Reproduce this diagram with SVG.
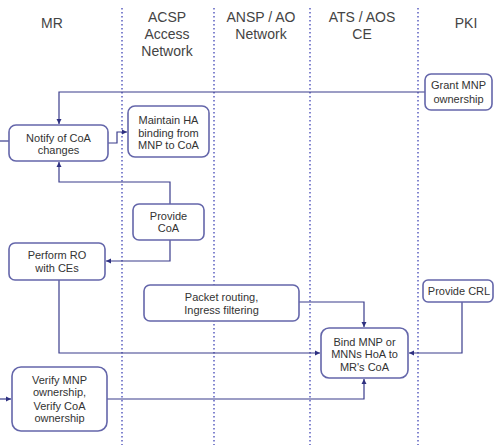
<svg xmlns="http://www.w3.org/2000/svg" width="494" height="445" viewBox="0 0 494 445">
<defs>
<marker id="ah" markerWidth="6" markerHeight="6" refX="5" refY="3" orient="auto" markerUnits="userSpaceOnUse">
<path d="M0,0.5 L5,3 L0,5.5 Z" fill="#2e3080"/>
</marker>
<style>
.hd{font-family:"Liberation Sans",Arial,sans-serif;font-size:14px;fill:#444;text-anchor:middle}
.tx{font-family:"Liberation Sans",Arial,sans-serif;font-size:11px;fill:#333;text-anchor:middle}
.box{fill:#fff;stroke:#6466aa;stroke-width:1.6}
.ln{fill:none;stroke:#3a3c8c;stroke-width:1.2}
.dv{stroke:#5a5ec0;stroke-width:1.5;stroke-dasharray:1.5,2.5}
</style>
</defs>
<rect width="494" height="445" fill="#fff"/>
<g id="lanes">
<line class="dv" x1="122" y1="8" x2="122" y2="445"/>
<line class="dv" x1="214" y1="8" x2="214" y2="445"/>
<line class="dv" x1="310" y1="8" x2="310" y2="445"/>
<line class="dv" x1="418" y1="8" x2="418" y2="445"/>
<text class="hd" x="52" y="28">MR</text>
<text class="hd" x="167" y="22">ACSP</text>
<text class="hd" x="167" y="39">Access</text>
<text class="hd" x="167" y="56">Network</text>
<text class="hd" x="261" y="22">ANSP / AO</text>
<text class="hd" x="261" y="39">Network</text>
<text class="hd" x="362" y="22">ATS / AOS</text>
<text class="hd" x="362" y="39">CE</text>
<text class="hd" x="466" y="28">PKI</text>
</g>
<g id="connectors">
<path class="ln" d="M425,92 H59 V124" marker-end="url(#ah)"/>
<path class="ln" d="M108,143 H117 V132 H127" marker-end="url(#ah)"/>
<path class="ln" d="M170,204 V182 H59 V162" marker-end="url(#ah)"/>
<path class="ln" d="M170,240 V261 H106" marker-end="url(#ah)"/>
<path class="ln" d="M59,280 V353 H320" marker-end="url(#ah)"/>
<path class="ln" d="M299,302 H364 V327" marker-end="url(#ah)"/>
<path class="ln" d="M462,302 V353 H409" marker-end="url(#ah)"/>
<path class="ln" d="M107,399 H364 V379" marker-end="url(#ah)"/>
<path class="ln" d="M0,141 H9"/>
<path class="ln" d="M0,399 H11" marker-end="url(#ah)"/>
</g>
<g id="grant">
<rect class="box" x="425" y="74" width="67" height="36" rx="6"/>
<text class="tx" x="458.5" y="89">Grant MNP</text>
<text class="tx" x="458.5" y="103">ownership</text>
</g>
<g id="notify">
<rect class="box" x="9" y="125" width="99" height="36" rx="7"/>
<text class="tx" x="58.5" y="142">Notify of CoA</text>
<text class="tx" x="58.5" y="154">changes</text>
</g>
<g id="maintain">
<rect class="box" x="128" y="106" width="81" height="51" rx="7"/>
<text class="tx" x="168.5" y="124">Maintain HA</text>
<text class="tx" x="168.5" y="137">binding from</text>
<text class="tx" x="168.5" y="149">MNP to CoA</text>
</g>
<g id="provide-coa">
<rect class="box" x="133" y="204" width="71" height="36" rx="6"/>
<text class="tx" x="168.5" y="220">Provide</text>
<text class="tx" x="168.5" y="232">CoA</text>
</g>
<g id="perform-ro">
<rect class="box" x="9" y="243" width="96" height="37" rx="6"/>
<text class="tx" x="57" y="259">Perform RO</text>
<text class="tx" x="57" y="272">with CEs</text>
</g>
<g id="packet">
<rect class="box" x="144" y="285" width="155" height="36" rx="6"/>
<text class="tx" x="221.5" y="301">Packet routing,</text>
<text class="tx" x="221.5" y="314">Ingress filtering</text>
</g>
<g id="provide-crl">
<rect class="box" x="423" y="280" width="70" height="22" rx="5"/>
<text class="tx" x="459" y="295">Provide CRL</text>
</g>
<g id="bind">
<rect class="box" x="321" y="328" width="87" height="50" rx="8"/>
<text class="tx" x="364.5" y="346">Bind MNP or</text>
<text class="tx" x="364.5" y="358">MNNs HoA to</text>
<text class="tx" x="364.5" y="371">MR's CoA</text>
</g>
<g id="verify">
<rect class="box" x="12" y="367" width="95" height="64" rx="9"/>
<text class="tx" x="59.5" y="384">Verify MNP</text>
<text class="tx" x="59.5" y="396">ownership,</text>
<text class="tx" x="59.5" y="410">Verify CoA</text>
<text class="tx" x="59.5" y="422">ownership</text>
</g>
</svg>
